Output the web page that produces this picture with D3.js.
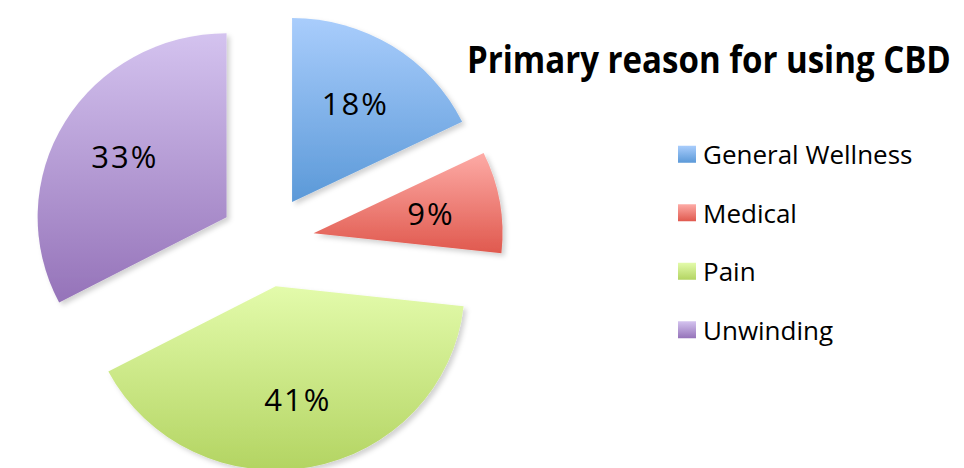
<!DOCTYPE html>
<html>
  <head>
    <meta charset="utf-8">
    <title>Primary reason for using CBD</title>
  </head>
  <style>
    body {
      margin: 0;
      background-color: #fff;
      font-family: "Open Sans", "Noto Sans", sans-serif;
    }
    svg { display: block; }
    .slice-label { font-size: 31px; letter-spacing: 2px; fill: #000; }
    .legend text { font-size: 26px; fill: #000; }
    .title { font-size: 37px; font-weight: bold; fill: #000; }
  </style>
  <script src="https://cdn.jsdelivr.net/npm/d3@7"></script>
  <body>
    <script>
    // data
    var categories = ["General Wellness", "Medical", "Pain", "Unwinding"]
    var values = [18, 9, 41, 33]
    var titleText = "Primary reason for using CBD"

    // colours (top -> bottom of the gradient)
    var topColors = ["#a9cdfc", "#fdaba6", "#e3fbab", "#d4c3ef"]
    var bottomColors = ["#5b99d8", "#e0594e", "#b3d462", "#9573b9"]

    var width = 964
    var height = 468

    var cx = 267, cy = 241
    var radius = 184
    var explode = 46
    var stretchX = 1.027

    var svg = d3.select("body")
                .append("svg")
                .attr("width", width)
                .attr("height", height)

    var defs = svg.append("defs")

    // one vertical gradient per category
    categories.forEach(function(c, i){
      var g = defs.append("linearGradient")
                  .attr("id", "grad" + i)
                  .attr("x1", 0).attr("y1", 0)
                  .attr("x2", 0).attr("y2", 1)
      g.append("stop").attr("offset", "0%").attr("stop-color", topColors[i])
      g.append("stop").attr("offset", "100%").attr("stop-color", bottomColors[i])
    })

    var shadow = defs.append("filter")
                     .attr("id", "shadow")
                     .attr("x", "-10%").attr("y", "-10%")
                     .attr("width", "130%").attr("height", "130%")
    shadow.append("feDropShadow")
          .attr("dx", 3).attr("dy", 3)
          .attr("stdDeviation", 2.5)
          .attr("flood-color", "#000")
          .attr("flood-opacity", 0.18)

    //--------------pie-------------
    var pie = d3.pie().sort(null).value(function(d){ return d })
    var arcs = pie(values)

    var arc = d3.arc().innerRadius(0).outerRadius(radius)
    var labelArc = d3.arc().innerRadius(radius * 0.63).outerRadius(radius * 0.63)

    function offset(d){
      var a = (d.startAngle + d.endAngle) / 2
      return [Math.sin(a) * explode, -Math.cos(a) * explode]
    }

    var pieG = svg.append("g")
                  .attr("transform", "translate(" + cx + "," + cy + ") scale(" + stretchX + ",1)")

    pieG.selectAll("path")
        .data(arcs)
        .enter()
        .append("path")
        .attr("transform", function(d){
          var o = offset(d)
          return "translate(" + o[0] + "," + o[1] + ")"
        })
        .attr("d", arc)
        .attr("fill", function(d, i){ return "url(#grad" + i + ")" })
        .attr("filter", "url(#shadow)")

    // 百分比标签
    svg.append("g")
       .selectAll("text")
       .data(arcs)
       .enter()
       .append("text")
       .attr("class", "slice-label")
       .attr("text-anchor", "middle")
       .attr("dy", "0.36em")
       .attr("x", function(d){
         var o = offset(d)
         return cx + (labelArc.centroid(d)[0] + o[0]) * stretchX
       })
       .attr("y", function(d){
         var o = offset(d)
         return cy + labelArc.centroid(d)[1] + o[1]
       })
       .text(function(d){ return d.data + "%" })

    //--------------title-------------
    // squeeze the bold title horizontally so it fits like the narrow original font
    var titleG = svg.append("g")
    var title = titleG.append("text")
                      .attr("class", "title")
                      .attr("x", 0)
                      .attr("y", 0)
                      .text(titleText)
    var titleW = title.node().getComputedTextLength()
    var titleScale = Math.min(1, 484 / titleW)
    titleG.attr("transform", "translate(467,73) scale(" + titleScale + ",1)")

    //--------------legend-------------
    var legendY = d3.scaleBand()
                    .domain(categories)
                    .range([125, 359])

    var legend = svg.append("g").attr("class", "legend")

    var items = legend.selectAll("g")
                      .data(categories)
                      .enter()
                      .append("g")
                      .attr("transform", function(d){
                        return "translate(678," + (legendY(d) + legendY.bandwidth() / 2) + ")"
                      })

    items.append("rect")
         .attr("x", 0)
         .attr("y", -8.5)
         .attr("width", 18)
         .attr("height", 17)
         .attr("fill", function(d, i){ return "url(#grad" + i + ")" })

    items.append("text")
         .attr("x", 25)
         .attr("dy", "0.38em")
         .text(function(d){ return d })
    </script>
  </body>
</html>
